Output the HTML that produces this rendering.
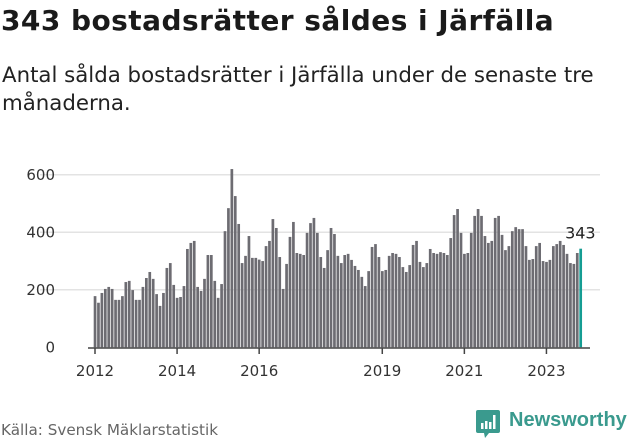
<!DOCTYPE html>
<html><head><meta charset="utf-8"><style>
body{margin:0;width:631px;height:439px;background:#fff;font-family:"DejaVu Sans","Liberation Sans",sans-serif;overflow:hidden;position:relative}
.t{position:absolute;white-space:nowrap}
</style></head><body>
<div class="t" style="left:1px;top:4px;font-size:28px;letter-spacing:0.45px;font-weight:bold;color:#1a1a1a">343 bostadsrätter såldes i Järfälla</div>
<div class="t" style="left:2px;top:62px;font-size:21.3px;line-height:28px;color:#222">Antal sålda bostadsrätter i Järfälla under de senaste tre<br>månaderna.</div>
<svg id="chart" width="631" height="439" style="position:absolute;left:0;top:0"></svg>
<div class="t" style="left:1px;top:421px;font-size:15.2px;color:#666">Källa: Svensk Mäklarstatistik</div>
<div style="position:absolute;left:476px;top:409px;width:152px;height:30px">
<svg width="26" height="29" style="position:absolute;left:0;top:1px"><path d="M2 0h20a2 2 0 0 1 2 2v19a2 2 0 0 1-2 2H13l-4 5-1-5H2a2 2 0 0 1-2-2V2a2 2 0 0 1 2-2z" fill="#3a9a8e"/><rect x="5" y="13" width="2.5" height="6" fill="#fff"/><rect x="9" y="11" width="2.5" height="8" fill="#fff"/><rect x="13" y="12" width="2.5" height="7" fill="#fff"/><rect x="17" y="5" width="2.5" height="14" fill="#fff"/></svg>
<div class="t" style="left:33px;top:0px;font-size:20px;font-weight:bold;color:#3a9a8e;font-family:'Liberation Sans',sans-serif">Newsworthy</div></div>
<script>
const values=[178,155,189,203,210,203,165,165,178,227,231,199,165,165,210,241,262,238,185,144,189,276,293,217,172,175,213,342,363,370,210,196,238,321,321,231,172,220,404,484,620,526,429,293,318,387,311,311,
305,300,352,370,446,415,314,203,290,384,436,328,
325,321,398,432,450,398,314,276,338,415,394,318,
293,321,325,304,283,269,245,213,265,349,359,314,
265,269,318,328,325,314,279,262,286,356,370,297,
279,293,342,328,325,331,328,321,380,460,481,398,
325,328,398,457,481,457,387,363,370,450,457,391,
338,352,404,418,411,411,352,304,307,352,363,300,
297,304,352,359,370,356,325,293,290,328,343];
const yTicks=[0,200,400,600];
const xLabels=["2012","2014","2016","2019","2021","2023"];
const xLabelIdx=[0,24,48,84,108,132];
const svg=document.getElementById('chart');const NS='http://www.w3.org/2000/svg';
const y=v=>347.3-v*0.2875; const x=i=>93.7+i*3.42;
function mk(t,a){const e=document.createElementNS(NS,t);for(const k in a)e.setAttribute(k,a[k]);svg.appendChild(e);return e;}
yTicks.forEach(v=>{if(v>0){const g=mk('line',{x1:40,x2:600,y1:y(v),y2:y(v),stroke:'#e3e3e3','stroke-width':1.5});

}
const t=mk('text',{x:55,y:y(v)+5,'text-anchor':'end','font-size':15,fill:'#333','font-family':'DejaVu Sans'});t.textContent=v;

});
values.forEach((v,i)=>{const last=i===values.length-1;const r=mk('rect',{x:x(i),y:y(v),width:2.7,height:347.3-y(v),fill:last?'#159d93':'#6d6c72'});

});
const ax=mk('line',{x1:88,x2:590,y1:348,y2:348,stroke:'#444','stroke-width':1.5});


xLabelIdx.forEach((idx,k)=>{const cx=x(idx)+1.3;mk('line',{x1:cx,x2:cx,y1:348,y2:354,stroke:'#444','stroke-width':1.5});
const t=mk('text',{x:cx,y:376,'text-anchor':'middle','font-size':15,fill:'#333','font-family':'DejaVu Sans'});t.textContent=xLabels[k];

});
const li=values.length-1;const lb=mk('text',{x:x(li)+1,y:y(values[li])-10,'text-anchor':'middle','font-size':16,fill:'#222','font-family':'DejaVu Sans'});lb.textContent=values[li];


</script>
</body></html>
